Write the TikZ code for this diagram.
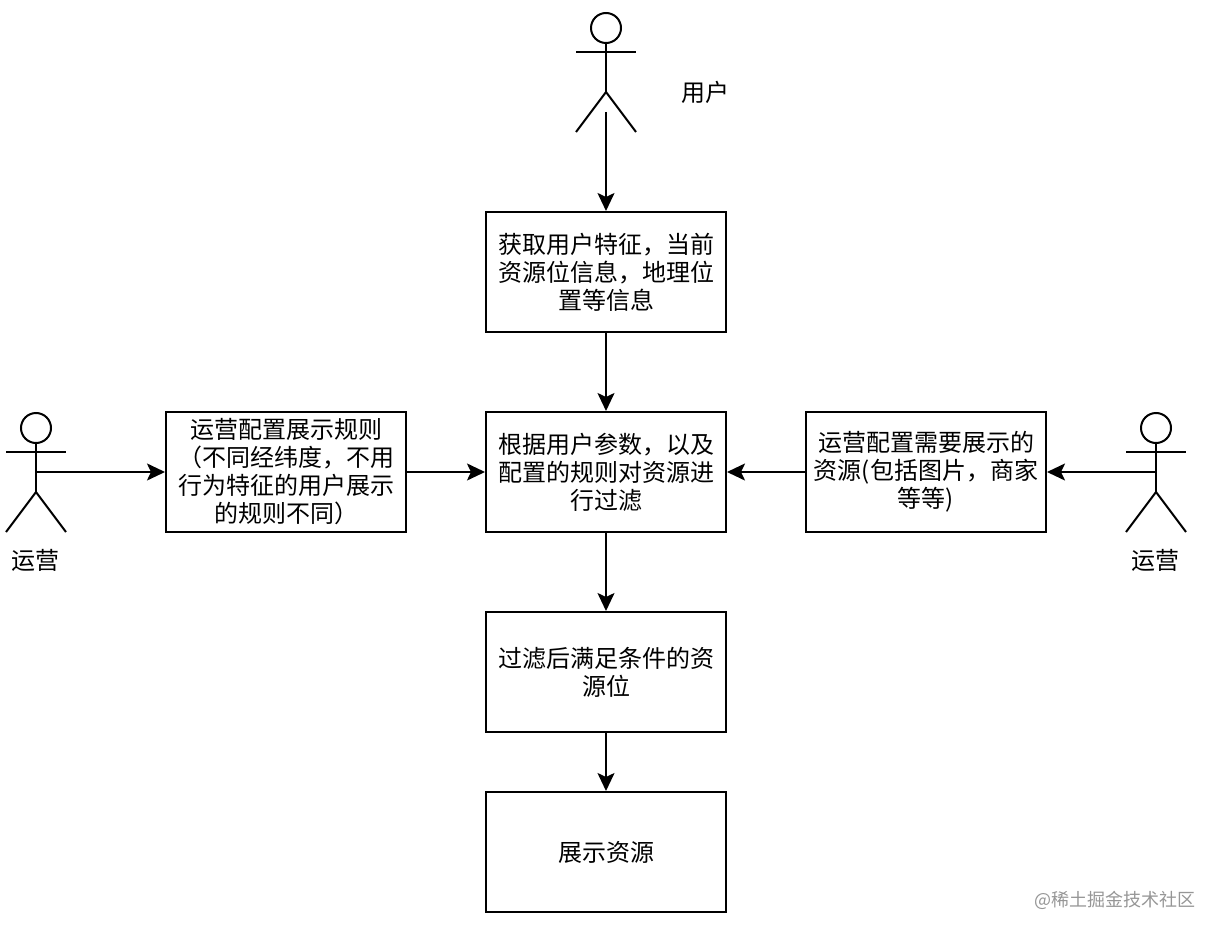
\documentclass[tikz,border=0pt]{standalone}
\usepackage{fontspec}
\setmainfont{Noto Sans CJK SC}
\usetikzlibrary{arrows.meta}
\definecolor{wm}{RGB}{150,150,150}
\tikzset{
  x=1pt,y=-1pt,
  bx/.style={draw,line width=2pt,minimum width=240pt,minimum height=120pt,inner sep=0pt,align=center,font=\fontsize{24}{28}\selectfont,text width=226pt},
  lbl/.style={inner sep=0pt,font=\fontsize{24}{28}\selectfont},
  ar/.style={line width=2pt,-{Stealth[length=18pt,width=17pt,inset=4pt]}},
  act/.style={line width=2pt}
}
\newcommand{\stick}[2]{%
  \draw[act] (#1,#2-14) circle (15);
  \draw[act] (#1,#2+1) -- (#1,#2+50);
  \draw[act] (#1-30,#2+10) -- (#1+30,#2+10);
  \draw[act] (#1-30,#2+90) -- (#1,#2+50) -- (#1+30,#2+90);
}
\begin{document}
\begin{tikzpicture}
\useasboundingbox (0,0) rectangle (1220,936);
\node[bx] (a) at (606,272) {获取用户特征，当前\\资源位信息，地理位\\置等信息};
\node[bx] (b) at (606,472) {根据用户参数，以及\\配置的规则对资源进\\行过滤};
\node[bx] (c) at (606,672) {过滤后满足条件的资\\源位};
\node[bx] (d) at (606,852) {展示资源};
\node[bx] (l) at (286,472) {运营配置展示规则\\（不同经纬度，不用\\行为特征的用户展示\\的规则不同）};
\node[bx] (r) at (926,472) {运营配置需要展示的\\资源(包括图片，商家\\等等)};
\stick{606}{42}
\stick{36}{442}
\stick{1156}{442}
\coordinate (u) at (606,112);
\coordinate (ol) at (36,472);
\coordinate (or) at (1156,472);
\node[lbl] (t1) at (705,92) {用户};
\node[lbl] (t2) at (35,560) {运营};
\node[lbl] (t3) at (1155,560) {运营};
\node[inner sep=0pt,text=wm,font=\fontsize{18}{20}\selectfont] (w) at (1115,900) {@稀土掘金技术社区};
\draw[ar] (u) -- (a);
\draw[ar] (a) -- (b);
\draw[ar] (b) -- (c);
\draw[ar] (c) -- (d);
\draw[ar] (l) -- (b);
\draw[ar] (r) -- (b);
\draw[ar] (ol) -- (l);
\draw[ar] (or) -- (r);
\end{tikzpicture}
\end{document}
